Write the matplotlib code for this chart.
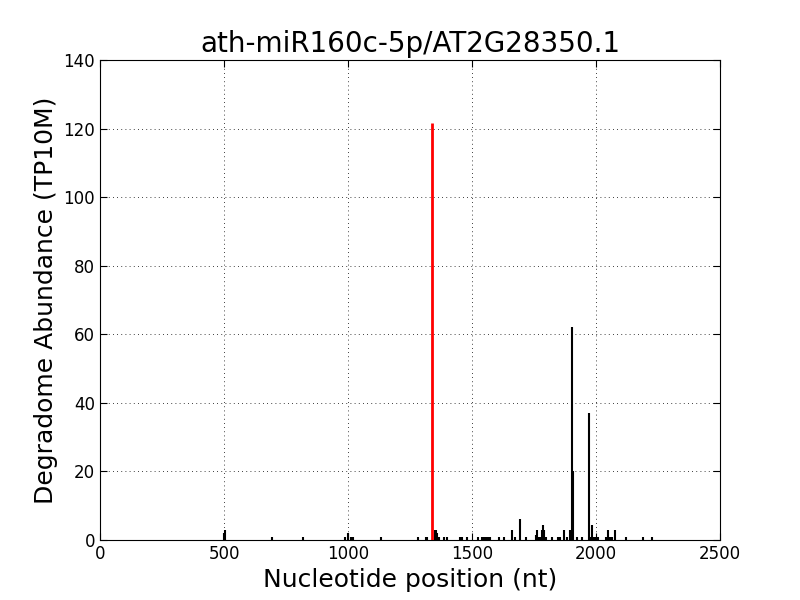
import matplotlib
matplotlib.use("Agg")
import matplotlib.pyplot as plt

# degradome tags (position in nt, abundance in TP10M)
pos = [500, 505, 694, 820, 988, 1001, 1012, 1022, 1133,
       1284, 1313, 1319, 1351, 1355, 1359, 1363, 1367, 1388, 1398,
       1452, 1460, 1478, 1523, 1540, 1548, 1556, 1565, 1573, 1609, 1630,
       1660, 1673, 1694, 1718, 1760, 1764, 1770, 1774, 1782, 1786, 1792, 1797,
       1821, 1846, 1855, 1872, 1882, 1895, 1903, 1908, 1922, 1945,
       1973, 1978, 1985, 1990, 1998, 2004, 2010, 2040, 2049, 2054, 2060, 2066,
       2077, 2121, 2191, 2224]
abund = [2, 3, 1, 1, 1, 2, 1, 1, 1,
         1, 1, 1, 3, 3, 2, 1, 1, 1, 1,
         1, 1, 1, 1, 1, 1, 1, 1, 1, 1, 1,
         3, 1, 6, 1, 1.5, 3, 1, 1, 3, 4.5, 3, 1,
         1, 1, 1, 3, 1, 3, 62, 20, 1, 1,
         37, 1, 4.5, 1, 1, 1, 1, 1, 3, 1, 1, 1,
         3, 1, 1, 1]

# miRNA cleavage site
site_pos = 1337
site_abund = 121.5

fig, ax = plt.subplots(figsize=(8, 6), dpi=100)
ax.vlines(pos, 0, abund, colors='black', linewidth=1.5)
ax.vlines([site_pos], 0, [site_abund], colors='red', linewidth=2)

ax.set_xlim(0, 2500)
ax.set_ylim(0, 140)
ax.set_title('ath-miR160c-5p/AT2G28350.1', fontsize=20)
ax.set_xlabel('Nucleotide position (nt)', fontsize=18)
ax.set_ylabel('Degradome Abundance (TP10M)', fontsize=18)
ax.grid(True, color='black', linestyle=(0, (1, 4)), linewidth=0.6)
ax.tick_params(direction='in', top=True, right=True, labelsize=12, length=5)
plt.subplots_adjust(left=0.125, right=0.9, bottom=0.1, top=0.9)
plt.savefig('out.png')
